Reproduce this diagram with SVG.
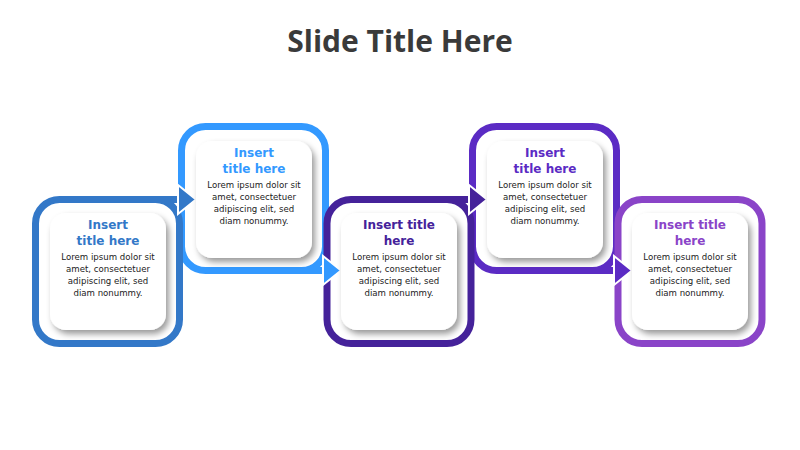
<svg xmlns="http://www.w3.org/2000/svg" width="800" height="450" viewBox="0 0 800 450">
<defs>
<filter id="sh" x="-20%" y="-20%" width="150%" height="150%"><feDropShadow dx="3" dy="4" stdDeviation="3" flood-color="#000" flood-opacity="0.4"/></filter>
</defs>
<style>
.fr{fill:none;stroke-width:7}
.ah{stroke:#fff;stroke-width:2}
.card{fill:#fff;filter:url(#sh)}
.t{font-family:"DejaVu Sans","Liberation Sans",sans-serif;font-weight:bold;font-size:12px;text-anchor:middle}
.b{font-family:"DejaVu Sans","Liberation Sans",sans-serif;font-size:8.6px;fill:#222;text-anchor:middle}
.h{font-family:"Open Sans","Liberation Sans",sans-serif;font-weight:bold;font-size:30px;fill:#3a3a3a;text-anchor:middle}
</style>
<rect width="800" height="450" fill="#fff"/>
<text class="h" x="400" y="52">Slide Title Here</text>
<g id="node2"><rect class="fr" x="181.5" y="126.5" width="144" height="144" rx="24" stroke="#3399FF"/></g>
<g id="node4"><rect class="fr" x="472.5" y="126.5" width="144" height="144" rx="24" stroke="#5B2BC4"/></g>
<g id="node1"><rect class="fr" x="35.5" y="199.5" width="144" height="144" rx="24" stroke="#3378C8"/></g>
<g id="node3"><rect class="fr" x="327" y="199.5" width="144" height="144" rx="24" stroke="#45229A"/></g>
<g id="node5"><rect class="fr" x="618" y="199.5" width="144" height="144" rx="24" stroke="#8A44C8"/></g>
<g id="connectors">
<path d="M150 199.5H182" stroke="#3378C8" stroke-width="7"/>
<path class="ah" d="M178 185L196 199.5L178 214Z" fill="#3378C8"/>
<path d="M300 270.5H327" stroke="#3399FF" stroke-width="7"/>
<path class="ah" d="M323 256L341 270.5L323 285Z" fill="#3399FF"/>
<path d="M440 199.5H473" stroke="#45229A" stroke-width="7"/>
<path class="ah" d="M469 185L487 199.5L469 214Z" fill="#45229A"/>
<path d="M590 270.5H618" stroke="#5B2BC4" stroke-width="7"/>
<path class="ah" d="M614 256L632 270.5L614 285Z" fill="#5B2BC4"/>
</g>
<g id="card1"><rect class="card" x="50" y="213" width="116" height="117" rx="16"/>
<text class="t" fill="#3378C8" x="108" y="229">Insert</text><text class="t" fill="#3378C8" x="108" y="245">title here</text>
<text class="b" x="108" y="260">Lorem ipsum dolor sit</text><text class="b" x="108" y="272">amet, consectetuer</text><text class="b" x="108" y="284">adipiscing elit, sed</text><text class="b" x="108" y="296">diam nonummy.</text></g>
<g id="card2"><rect class="card" x="196" y="141" width="116" height="117" rx="16"/>
<text class="t" fill="#3399FF" x="254" y="157">Insert</text><text class="t" fill="#3399FF" x="254" y="173">title here</text>
<text class="b" x="254" y="188">Lorem ipsum dolor sit</text><text class="b" x="254" y="200">amet, consectetuer</text><text class="b" x="254" y="212">adipiscing elit, sed</text><text class="b" x="254" y="224">diam nonummy.</text></g>
<g id="card3"><rect class="card" x="341" y="213" width="116" height="117" rx="16"/>
<text class="t" fill="#45229A" x="399" y="229">Insert title</text><text class="t" fill="#45229A" x="399" y="245">here</text>
<text class="b" x="399" y="260">Lorem ipsum dolor sit</text><text class="b" x="399" y="272">amet, consectetuer</text><text class="b" x="399" y="284">adipiscing elit, sed</text><text class="b" x="399" y="296">diam nonummy.</text></g>
<g id="card4"><rect class="card" x="487" y="141" width="116" height="117" rx="16"/>
<text class="t" fill="#5B2BC4" x="545" y="157">Insert</text><text class="t" fill="#5B2BC4" x="545" y="173">title here</text>
<text class="b" x="545" y="188">Lorem ipsum dolor sit</text><text class="b" x="545" y="200">amet, consectetuer</text><text class="b" x="545" y="212">adipiscing elit, sed</text><text class="b" x="545" y="224">diam nonummy.</text></g>
<g id="card5"><rect class="card" x="632" y="213" width="116" height="117" rx="16"/>
<text class="t" fill="#8A44C8" x="690" y="229">Insert title</text><text class="t" fill="#8A44C8" x="690" y="245">here</text>
<text class="b" x="690" y="260">Lorem ipsum dolor sit</text><text class="b" x="690" y="272">amet, consectetuer</text><text class="b" x="690" y="284">adipiscing elit, sed</text><text class="b" x="690" y="296">diam nonummy.</text></g>
</svg>
